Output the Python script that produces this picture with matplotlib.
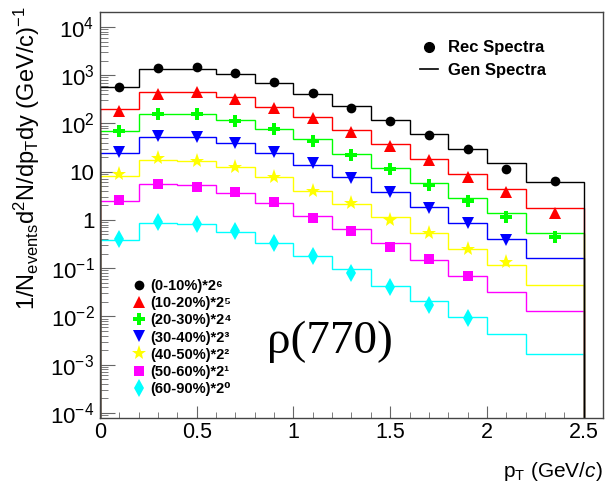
import numpy as np
import matplotlib.pyplot as plt
from matplotlib.lines import Line2D

plt.rcParams['font.family'] = ['Liberation Sans', 'DejaVu Sans']
plt.rcParams['mathtext.fontset'] = 'custom'
plt.rcParams['mathtext.rm'] = 'Liberation Sans'
plt.rcParams['mathtext.it'] = 'Liberation Sans:italic'
plt.rcParams['mathtext.bf'] = 'Liberation Sans:bold'
plt.rcParams['mathtext.default'] = 'regular'

# pT binning (GeV/c)
pt_edges = [0.0, 0.2, 0.4, 0.6, 0.8, 1.0, 1.2, 1.4, 1.6, 1.8, 2.0, 2.2, 2.5]
pt_centers = [0.1, 0.3, 0.5, 0.7, 0.9, 1.1, 1.3, 1.5, 1.7, 1.9, 2.1, 2.35]

labels = ['(0-10%)*2\u2076', '(10-20%)*2\u2075', '(20-30%)*2\u2074', '(30-40%)*2\u00b3',
          '(40-50%)*2\u00b2', '(50-60%)*2\u00b9', '(60-90%)*2\u2070']
colors = ['black', '#ff0000', '#00ff00', '#0000ff', '#ffff00', '#ff00ff', '#00ffff']
markers = ['o', '^', 'P', 'v', '*', 's', 'd']
msizes = [7, 8, 9, 8, 11, 7, 9]

# reconstructed spectra (points)
rec_0_10 = [560, 1390, 1460, 1130, 715, 430, 213, 113, 57, 29.2, 11.6, 6.4]
rec_10_20 = [184, 409, 450, 317, 212, 130, 67.6, 34.2, 17.5, 7.7, 3.75, 1.42]
rec_20_30 = [70, 157, 157, 114, 77, 44, 22, 11.2, 5.4, 2.48, 1.17, 0.45]
rec_30_40 = [26, 55, 53, 39, 25.3, 15.4, 7.3, 3.86, 1.75, 0.88, 0.385]
rec_40_50 = [8.9, 19, 16.7, 12.4, 7.9, 4.05, 2.22, 1.0, 0.546, 0.247, 0.137]
rec_50_60 = [2.6, 5.5, 4.76, 3.86, 2.39, 1.12, 0.583, 0.28, 0.153, 0.070]
rec_60_90 = [0.404, 0.922, 0.826, 0.592, 0.338, 0.182, 0.081, 0.0415, 0.0173, 0.0092]

# generated spectra (histograms)
gen_0_10 = [563, 1328, 1367, 1046, 681, 403, 228, 118, 60.6, 30, 15, 6.0]
gen_10_20 = [197, 456, 456, 349, 223, 134.5, 72.3, 37.1, 18.4, 9.1, 4.39, 1.75]
gen_20_30 = [70, 160, 160, 118, 77, 47, 23.3, 11.8, 5.93, 2.9, 1.38, 0.53]
gen_30_40 = [24.1, 53.3, 53.3, 38.9, 24.1, 13.8, 7.67, 3.75, 1.83, 0.855, 0.404, 0.161]
gen_40_50 = [8.17, 17.5, 16.9, 12.4, 7.9, 4.05, 2.15, 1.14, 0.53, 0.247, 0.115, 0.045]
gen_50_60 = [2.48, 5.57, 5.31, 3.68, 2.28, 1.21, 0.642, 0.329, 0.148, 0.070, 0.0327, 0.013]
gen_60_90 = [0.385, 0.879, 0.815, 0.556, 0.329, 0.18, 0.0964, 0.0435, 0.0213, 0.0096, 0.00428, 0.00167]

rec = [rec_0_10, rec_10_20, rec_20_30, rec_30_40, rec_40_50, rec_50_60, rec_60_90]
gen = [gen_0_10, gen_10_20, gen_20_30, gen_30_40, gen_40_50, gen_50_60, gen_60_90]

fig = plt.figure(figsize=(6.06, 4.98), dpi=100)
ax = fig.add_axes([0.165, 0.161, 0.830, 0.815])

ymin, ymax = 7.9e-5, 2.05e4

handles = []
for i in range(len(rec)-1, -1, -1):
    ax.stairs(gen[i], pt_edges, baseline=1e-6, color=colors[i], lw=1.0, zorder=2)
for i in range(len(rec)):
    h, = ax.plot(pt_centers[:len(rec[i])], rec[i], ls='none', marker=markers[i],
                 color=colors[i], ms=msizes[i], mew=0, zorder=3)
    handles.append(h)

ax.set_yscale('log')
ax.set_xlim(0, 2.6)
ax.set_ylim(ymin, ymax)

ax.set_yticks([1e4, 1e3, 1e2, 10, 1, 0.1, 0.01, 1e-3, 1e-4])
ax.set_yticklabels(['$10^{4}$', '$10^{3}$', '$10^{2}$', '10', '1', '$10^{-1}$',
                    '$10^{-2}$', '$10^{-3}$', '$10^{-4}$'])
ax.set_xticks([0, 0.5, 1, 1.5, 2, 2.5])
ax.set_xticklabels(['0', '0.5', '1', '1.5', '2', '2.5'])
ax.set_xticks(np.arange(0, 2.61, 0.1), minor=True)
ax.tick_params(which='both', direction='in', top=False, right=False, colors='#666666',
               labelcolor='black')
ax.tick_params(axis='y', which='major', length=11, pad=4, labelsize=16)
ax.tick_params(axis='y', which='minor', length=5.5)
ax.tick_params(axis='x', which='major', length=9, pad=3, labelsize=15.5)
ax.tick_params(axis='x', which='minor', length=4.5)
for s in ax.spines.values():
    s.set_color('#444444')
    s.set_linewidth(1.0)

fig.text(0.02, 0.988, '1/N$_{events}$d$^{2}$N/dp$_{T}$dy (GeV/c)$^{-1}$', rotation=90,
         ha='left', va='top', fontsize=17)
fig.text(0.995, 0.03, 'p$_{T}$ (GeV/$\\mathit{c}$)', ha='right', va='bottom', fontsize=15)

ax.text(0.332, 0.187, '\u03c1(770)', transform=ax.transAxes, ha='left', va='center',
        fontsize=34, family='Liberation Serif')

legfont = {'family': ['Liberation Sans', 'DejaVu Sans'], 'weight': 'bold'}
leg1 = ax.legend([Line2D([], [], ls='none', marker='o', color='black', ms=7),
                  Line2D([], [], color='black', lw=1.2)],
                 ['Rec Spectra', 'Gen Spectra'], loc='upper left',
                 bbox_to_anchor=(0.606, 0.967), frameon=False, handlelength=1.1,
                 handletextpad=0.6, labelspacing=0.45, prop=dict(legfont, size=12))
ax.add_artist(leg1)
ax.legend(handles, labels, loc='upper left', bbox_to_anchor=(0.042, 0.370),
          frameon=False, handlelength=0.9, handletextpad=0.3, labelspacing=0.21,
          borderpad=0.3, prop=dict(legfont, size=10.5))

fig.savefig('out.png', dpi=100)
